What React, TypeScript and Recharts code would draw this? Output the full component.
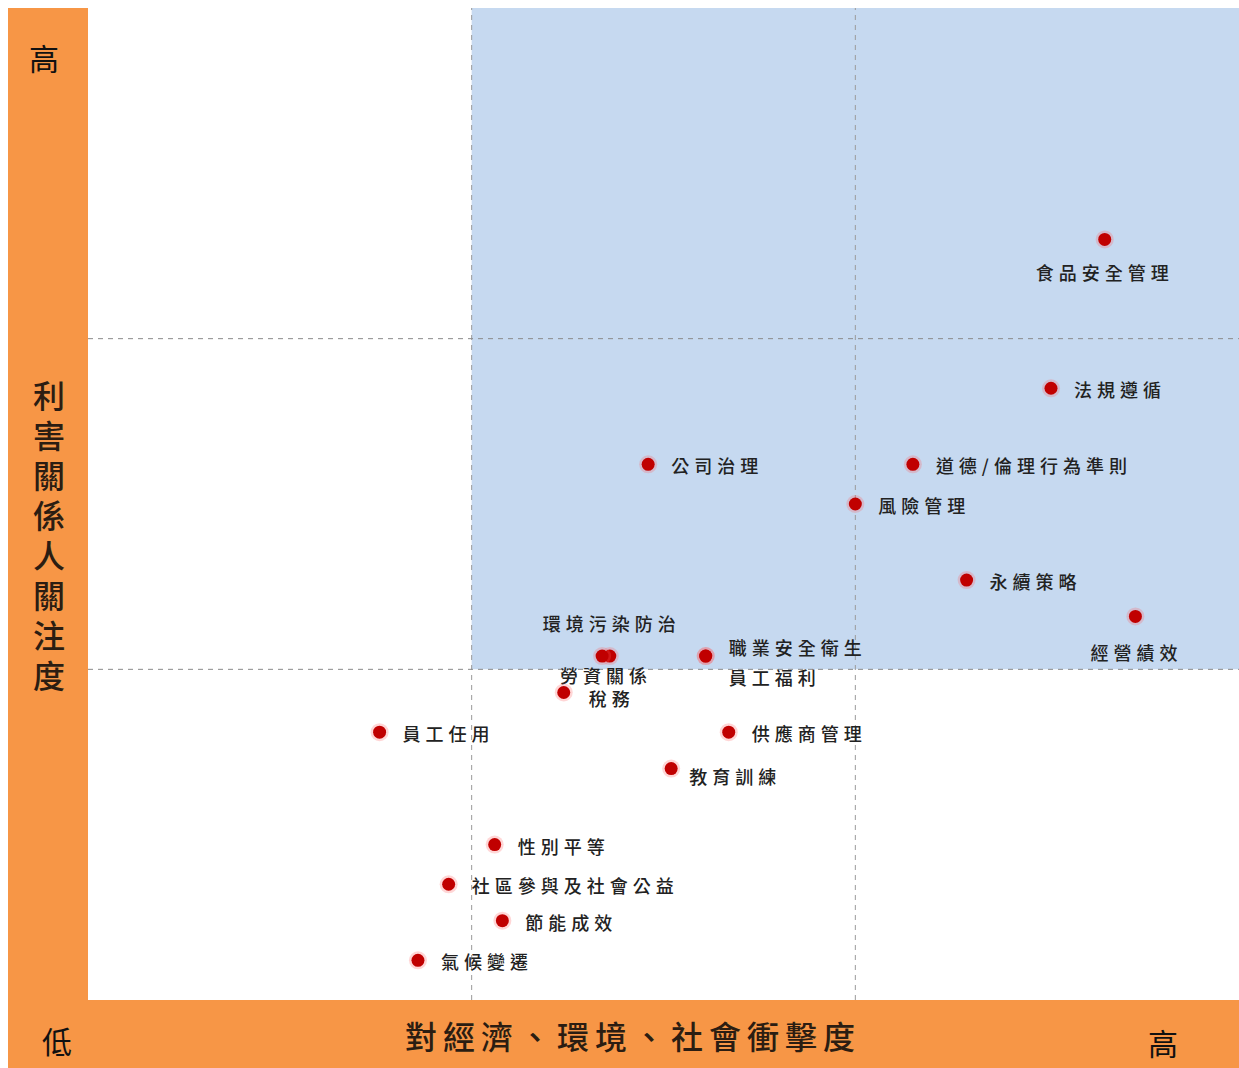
import React from 'react';
import { ScatterChart, Scatter, XAxis, YAxis, ReferenceArea, ReferenceLine } from 'recharts';

// 重大性矩陣：X = 對經濟、環境、社會衝擊度，Y = 利害關係人關注度 (0~3)
const topics = [
  '食品安全管理', '法規遵循', '道德/倫理行為準則', '公司治理', '風險管理', '永續策略', '經營績效',
  '環境污染防治', '勞資關係', '職業安全衛生', '員工福利', '稅務', '員工任用', '供應商管理',
  '教育訓練', '性別平等', '社區參與及社會公益', '節能成效', '氣候變遷',
];
const impact = [2.65, 2.51, 2.15, 1.46, 2.0, 2.29, 2.73, 1.36, 1.34, 1.61, 1.61, 1.24, 0.76, 1.67, 1.52, 1.06, 0.94, 1.08, 0.86];
const concern = [2.3, 1.85, 1.62, 1.62, 1.5, 1.27, 1.16, 1.04, 1.04, 1.04, 1.04, 0.93, 0.81, 0.81, 0.7, 0.47, 0.35, 0.24, 0.12];

const xTitle = '對經濟、環境、社會衝擊度';
const yTitle = '利害關係人關注度';

// label placement (anchor, dx, dy) for the topics that are not simply to the right
const labelPos: Record<string, [string, number, number]> = {
  '食品安全管理': ['middle', 0, 33],
  '經營績效': ['middle', 1, 36],
  '環境污染防治': ['middle', 2, -33],
  '勞資關係': ['middle', 4, 19],
  '職業安全衛生': ['start', 23, -9],
  '員工福利': ['start', 23, 21],
  '稅務': ['start', 25, 6],
  '教育訓練': ['start', 18, 7],
};

const data = topics.map((name, i) => ({ name, x: impact[i], y: concern[i] }));

const ORANGE = '#f79646';
const BLUE = '#c6d9f0';
const cjk = '"Noto Sans CJK TC", "Noto Sans", sans-serif';

function TopicDot(props: any) {
  const { cx, cy, payload } = props;
  const [anchor, dx, dy] = labelPos[payload.name] || ['start', 23, 1];
  return (
    <g>
      <circle cx={cx} cy={cy} r={9} fill="#ff5a5a" fillOpacity={0.25} />
      <circle cx={cx} cy={cy} r={6.5} fill="#c00000" />
      <text
        x={cx + dx}
        y={cy + dy}
        textAnchor={anchor as any}
        dominantBaseline="central"
        fontSize={18}
        letterSpacing={5}
        fontFamily={cjk}
        fontWeight={500}
        fill="#222"
      >
        {payload.name}
      </text>
    </g>
  );
}

const center: React.CSSProperties = {
  position: 'absolute',
  transform: 'translate(-50%, -50%)',
  fontFamily: cjk,
  color: '#2b1d12',
  whiteSpace: 'nowrap',
  lineHeight: 1,
};

export default function App() {
  return (
    <>
      <style>{'html, body { margin: 0; padding: 0; overflow: hidden; }'}</style>
      <div style={{ position: 'absolute', left: 8, top: 8, width: 1231, height: 1060, background: '#fff' }}>
        <div style={{ position: 'absolute', left: 0, top: 0, width: 80, height: 1060, background: ORANGE }} />
        <div style={{ position: 'absolute', left: 0, top: 992, width: 1231, height: 68, background: ORANGE }} />

        <div style={{ position: 'absolute', left: 0, top: 0 }}>
          <ScatterChart width={1231} height={1060} margin={{ top: 0, right: 0, left: 80, bottom: 68 }}>
            <XAxis type="number" dataKey="x" domain={[0, 3]} hide />
            <YAxis type="number" dataKey="y" domain={[0, 3]} hide />
            <ReferenceArea x1={1} x2={3} y1={1} y2={3} fill={BLUE} fillOpacity={1} stroke="none" />
            <ReferenceLine x={1} stroke="#9a9a9a" strokeDasharray="5 5" />
            <ReferenceLine x={2} stroke="#9a9a9a" strokeDasharray="5 5" />
            <ReferenceLine y={1} stroke="#8a8a8a" strokeDasharray="5 5" />
            <ReferenceLine y={2} stroke="#8a8a8a" strokeDasharray="5 5" />
            <Scatter data={data} shape={TopicDot} isAnimationActive={false} />
          </ScatterChart>
        </div>

        <div style={{ ...center, left: 36, top: 49, fontSize: 30, color: '#111' }}>高</div>
        <div
          style={{
            ...center,
            left: 41,
            top: 532,
            fontSize: 32,
            writingMode: 'vertical-rl',
            letterSpacing: 8,
            fontWeight: 500,
          }}
        >
          {yTitle}
        </div>
        <div style={{ ...center, left: 49, top: 1032, fontSize: 30, color: '#111' }}>低</div>
        <div style={{ ...center, left: 625, top: 1027, fontSize: 32, letterSpacing: 6, fontWeight: 500 }}>{xTitle}</div>
        <div style={{ ...center, left: 1155, top: 1034, fontSize: 30, color: '#111' }}>高</div>
      </div>
    </>
  );
}
